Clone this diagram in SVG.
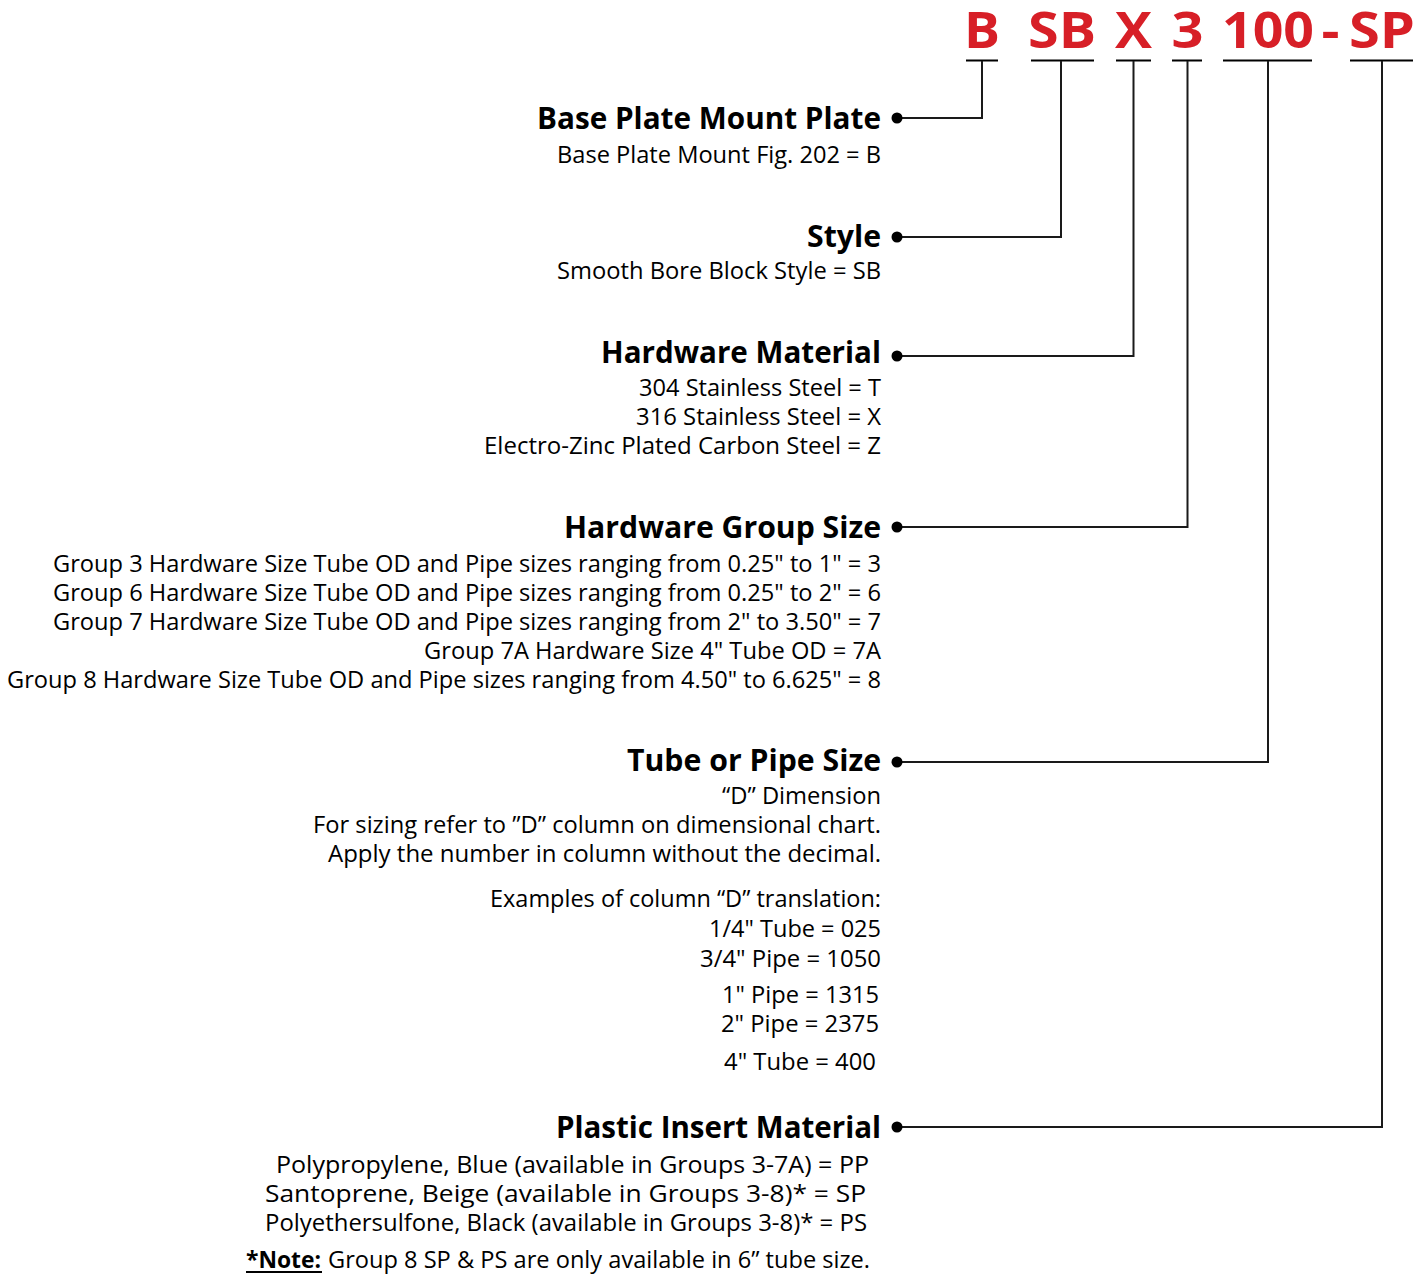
<svg xmlns="http://www.w3.org/2000/svg" width="1424" height="1275" viewBox="0 0 1424 1275">
<style>
  .code { font-family: "Open Sans", "Noto Sans", "Liberation Sans", sans-serif; font-weight: 700; font-size: 51px; fill: #d71f27; text-anchor: middle; }
  .h { font-family: "Open Sans", "Noto Sans", "Liberation Sans", sans-serif; font-weight: 700; font-size: 31px; fill: #000; text-anchor: end; }
  .b { font-family: "Open Sans", "Noto Sans", "Liberation Sans", sans-serif; font-weight: 400; font-size: 24px; fill: #000; text-anchor: end; }
  .bs { font-family: "Open Sans", "Noto Sans", "Liberation Sans", sans-serif; font-weight: 400; font-size: 24px; fill: #000; }
  .nb { font-family: "Open Sans", "Noto Sans", "Liberation Sans", sans-serif; font-weight: 700; font-size: 24px; fill: #000; }
  .ln { fill: none; stroke: #1a1a1a; stroke-width: 2; }
  .ul { fill: none; stroke: #000; stroke-width: 2; }
  .dot { fill: #000; }
</style>
<rect width="1424" height="1275" fill="#fff"/>

<g id="part-code">
  <text class="code" x="982" y="47.5" textLength="36" lengthAdjust="spacingAndGlyphs">B</text>
  <text class="code" x="1062" y="47.5" textLength="68" lengthAdjust="spacingAndGlyphs">SB</text>
  <text class="code" x="1133.5" y="47.5" textLength="37" lengthAdjust="spacingAndGlyphs">X</text>
  <text class="code" x="1187.5" y="47.5" textLength="32" lengthAdjust="spacingAndGlyphs">3</text>
  <text class="code" x="1268" y="47.5" textLength="92" lengthAdjust="spacingAndGlyphs">100</text>
  <text class="code" x="1330.5" y="47.5" textLength="18" lengthAdjust="spacingAndGlyphs">-</text>
  <text class="code" x="1382" y="47.5" textLength="66" lengthAdjust="spacingAndGlyphs">SP</text>
</g>

<g id="connectors">
  <path class="ul" d="M966 60.5H998 M1031 60.5H1094 M1116 60.5H1151 M1172 60.5H1202 M1223 60.5H1312 M1350 60.5H1413"/>
  <path class="ln" d="M897 118H982V61"/>
  <path class="ln" d="M897 237H1061V61"/>
  <path class="ln" d="M897 356H1133.5V61"/>
  <path class="ln" d="M897 527H1187.5V61"/>
  <path class="ln" d="M897 762H1268V61"/>
  <path class="ln" d="M897 1127H1382V61"/>
</g>

<g id="node-base-plate">
  <circle class="dot" cx="897" cy="118" r="5.5"/>
  <text class="h" x="881" y="129" textLength="344" lengthAdjust="spacingAndGlyphs">Base Plate Mount Plate</text>
  <text class="b" x="881" y="163" textLength="324" lengthAdjust="spacingAndGlyphs">Base Plate Mount Fig. 202 = B</text>
</g>

<g id="node-style">
  <circle class="dot" cx="897" cy="237" r="5.5"/>
  <text class="h" x="881" y="247" textLength="74" lengthAdjust="spacingAndGlyphs">Style</text>
  <text class="b" x="881" y="279" textLength="324" lengthAdjust="spacingAndGlyphs">Smooth Bore Block Style = SB</text>
</g>

<g id="node-hardware-material">
  <circle class="dot" cx="897" cy="356" r="5.5"/>
  <text class="h" x="881" y="363" textLength="280" lengthAdjust="spacingAndGlyphs">Hardware Material</text>
  <text class="b" x="881" y="396" textLength="242" lengthAdjust="spacingAndGlyphs">304 Stainless Steel = T</text>
  <text class="b" x="881" y="425" textLength="245" lengthAdjust="spacingAndGlyphs">316 Stainless Steel = X</text>
  <text class="b" x="881" y="454" textLength="397" lengthAdjust="spacingAndGlyphs">Electro-Zinc Plated Carbon Steel = Z</text>
</g>

<g id="node-hardware-group-size">
  <circle class="dot" cx="897" cy="527" r="5.5"/>
  <text class="h" x="881" y="538" textLength="317" lengthAdjust="spacingAndGlyphs">Hardware Group Size</text>
  <text class="b" x="881" y="572" textLength="828" lengthAdjust="spacingAndGlyphs">Group 3 Hardware Size Tube OD and Pipe sizes ranging from 0.25" to 1" = 3</text>
  <text class="b" x="881" y="601" textLength="828" lengthAdjust="spacingAndGlyphs">Group 6 Hardware Size Tube OD and Pipe sizes ranging from 0.25" to 2" = 6</text>
  <text class="b" x="881" y="630" textLength="828" lengthAdjust="spacingAndGlyphs">Group 7 Hardware Size Tube OD and Pipe sizes ranging from 2" to 3.50" = 7</text>
  <text class="b" x="881" y="659" textLength="457" lengthAdjust="spacingAndGlyphs">Group 7A Hardware Size 4" Tube OD = 7A</text>
  <text class="b" x="881" y="688" textLength="874" lengthAdjust="spacingAndGlyphs">Group 8 Hardware Size Tube OD and Pipe sizes ranging from 4.50" to 6.625" = 8</text>
</g>

<g id="node-tube-pipe-size">
  <circle class="dot" cx="897" cy="762" r="5.5"/>
  <text class="h" x="881" y="771" textLength="254" lengthAdjust="spacingAndGlyphs">Tube or Pipe Size</text>
  <text class="b" x="881" y="804" textLength="159" lengthAdjust="spacingAndGlyphs">“D” Dimension</text>
  <text class="b" x="881" y="833" textLength="568" lengthAdjust="spacingAndGlyphs">For sizing refer to ”D” column on dimensional chart.</text>
  <text class="b" x="881" y="862" textLength="553" lengthAdjust="spacingAndGlyphs">Apply the number in column without the decimal.</text>
  <text class="b" x="881" y="907" textLength="391" lengthAdjust="spacingAndGlyphs">Examples of column “D” translation:</text>
  <text class="b" x="881" y="937" textLength="172" lengthAdjust="spacingAndGlyphs">1/4" Tube = 025</text>
  <text class="b" x="881" y="967" textLength="181" lengthAdjust="spacingAndGlyphs">3/4" Pipe = 1050</text>
  <text class="b" x="879" y="1003" textLength="157" lengthAdjust="spacingAndGlyphs">1" Pipe = 1315</text>
  <text class="b" x="879" y="1032" textLength="158" lengthAdjust="spacingAndGlyphs">2" Pipe = 2375</text>
  <text class="b" x="876" y="1070" textLength="152" lengthAdjust="spacingAndGlyphs">4" Tube = 400</text>
</g>

<g id="node-plastic-insert">
  <circle class="dot" cx="897" cy="1127" r="5.5"/>
  <text class="h" x="881" y="1138" textLength="325" lengthAdjust="spacingAndGlyphs">Plastic Insert Material</text>
  <text class="b" x="869" y="1173" textLength="593" lengthAdjust="spacingAndGlyphs">Polypropylene, Blue (available in Groups 3-7A) = PP</text>
  <text class="b" x="866" y="1202" textLength="601" lengthAdjust="spacingAndGlyphs">Santoprene, Beige (available in Groups 3-8)* = SP</text>
  <text class="b" x="867" y="1231" textLength="602" lengthAdjust="spacingAndGlyphs">Polyethersulfone, Black (available in Groups 3-8)* = PS</text>
  <text class="nb" x="246" y="1268" textLength="75" lengthAdjust="spacingAndGlyphs">*Note:</text>
  <path class="ul" d="M246 1272H322"/>
  <text class="bs" x="328" y="1268" textLength="542" lengthAdjust="spacingAndGlyphs">Group 8 SP &amp; PS are only available in 6” tube size.</text>
</g>
</svg>
